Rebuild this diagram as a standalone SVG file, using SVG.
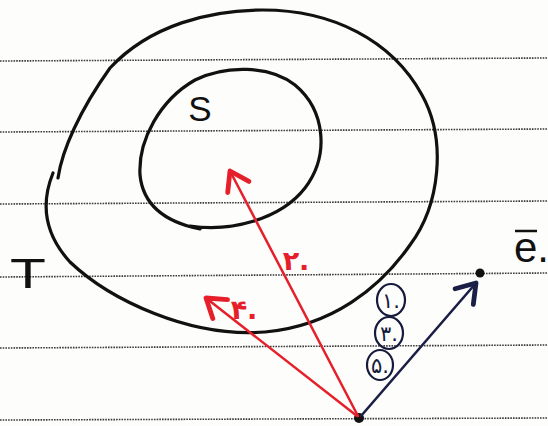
<svg xmlns="http://www.w3.org/2000/svg" width="548" height="426" viewBox="0 0 548 426">
<style>
.rule{stroke:#3a3a3a;stroke-width:1.6;stroke-dasharray:1.6 1.1;fill:none}
.curve{fill:none;stroke:#111;stroke-width:3.2;stroke-linecap:round;stroke-linejoin:round}
.red{stroke:#e5202b;stroke-width:2.5;fill:none;stroke-linecap:round}
.navy{stroke:#1b1e45;stroke-width:2.6;fill:none;stroke-linecap:round}
.lbl{font-family:"Liberation Sans",Arial,sans-serif;fill:#111}
.fa{font-family:"DejaVu Sans","Noto Sans",sans-serif}
.circ{fill:none;stroke:#161a3c;stroke-width:2.2}
</style>
<defs>
<marker id="ahR" markerUnits="userSpaceOnUse" markerWidth="30" markerHeight="30" refX="14" refY="10" orient="auto" viewBox="0 0 20 20">
<path d="M2,2 L14,10 L2,18" fill="none" stroke="#e5202b" stroke-width="3.2" stroke-linecap="round" stroke-linejoin="round"/>
</marker>
<marker id="ahB" markerUnits="userSpaceOnUse" markerWidth="30" markerHeight="30" refX="14" refY="10" orient="auto" viewBox="0 0 20 20">
<path d="M2,2 L14,10 L2,18" fill="none" stroke="#1b1e45" stroke-width="3.2" stroke-linecap="round" stroke-linejoin="round"/>
</marker>
</defs>
<rect width="548" height="426" fill="#fdfdfc"/>
<g id="ruling">
<line class="rule" x1="0" y1="61" x2="548" y2="58"/>
<line class="rule" x1="0" y1="132" x2="548" y2="129"/>
<line class="rule" x1="0" y1="204" x2="548" y2="201"/>
<line class="rule" x1="0" y1="277" x2="548" y2="273"/>
<line class="rule" x1="0" y1="348" x2="548" y2="345"/>
<line class="rule" x1="0" y1="420" x2="548" y2="418"/>
</g>
<g id="T">
<path class="curve" d="M58,178 C62,150 80,110 110,68 C150,25 210,10 263,10 C332,10 392,40 422,95 C447,140 440,205 410,245 C380,288 332,326 265,332 C190,338 110,300 70,262 C50,240 38,210 53,173"/>
<text class="lbl" x="28" y="288" font-size="42" text-anchor="middle" transform="translate(28 0) scale(1.4 1) translate(-28 0)">T</text>
</g>
<g id="S">
<path class="curve" d="M190,226 C230,232 280,220 305,188 C330,155 325,110 295,85 C270,65 225,65 195,80 C160,100 138,140 140,175 C143,205 165,222 200,229"/>
<text class="lbl" x="200" y="121" font-size="35" text-anchor="middle">S</text>
</g>
<g id="origin">
<circle cx="359" cy="418" r="5" fill="#111"/>
</g>
<g id="e">
<circle cx="480" cy="273" r="4.5" fill="#111"/>
<line x1="515" y1="231" x2="537" y2="231" stroke="#111" stroke-width="2.5"/>
<text class="lbl" x="514" y="262" font-size="42">e.</text>
</g>
<g id="connectors">
<line class="red" x1="358" y1="416" x2="230" y2="171" marker-end="url(#ahR)"/>
<line class="red" x1="357" y1="416" x2="206" y2="298" marker-end="url(#ahR)"/>
<line class="navy" x1="361" y1="416" x2="476" y2="283" marker-end="url(#ahB)"/>
</g>
<g id="labels">
<text class="fa" x="296" y="270" font-size="27" fill="#e5202b" text-anchor="middle" font-weight="bold">۲.</text>
<text class="fa" x="244" y="319" font-size="27" fill="#e5202b" text-anchor="middle" font-weight="bold">۴.</text>
<ellipse class="circ" cx="391" cy="300" rx="14" ry="16"/>
<text class="fa" x="391" y="308" font-size="21" fill="#161a3c" text-anchor="middle">۱.</text>
<ellipse class="circ" cx="389" cy="333" rx="14" ry="16"/>
<text class="fa" x="389" y="341" font-size="21" fill="#161a3c" text-anchor="middle">۳.</text>
<ellipse class="circ" cx="380" cy="365" rx="13" ry="15"/>
<text class="fa" x="380" y="373" font-size="21" fill="#161a3c" text-anchor="middle">۵.</text>
</g>
</svg>
